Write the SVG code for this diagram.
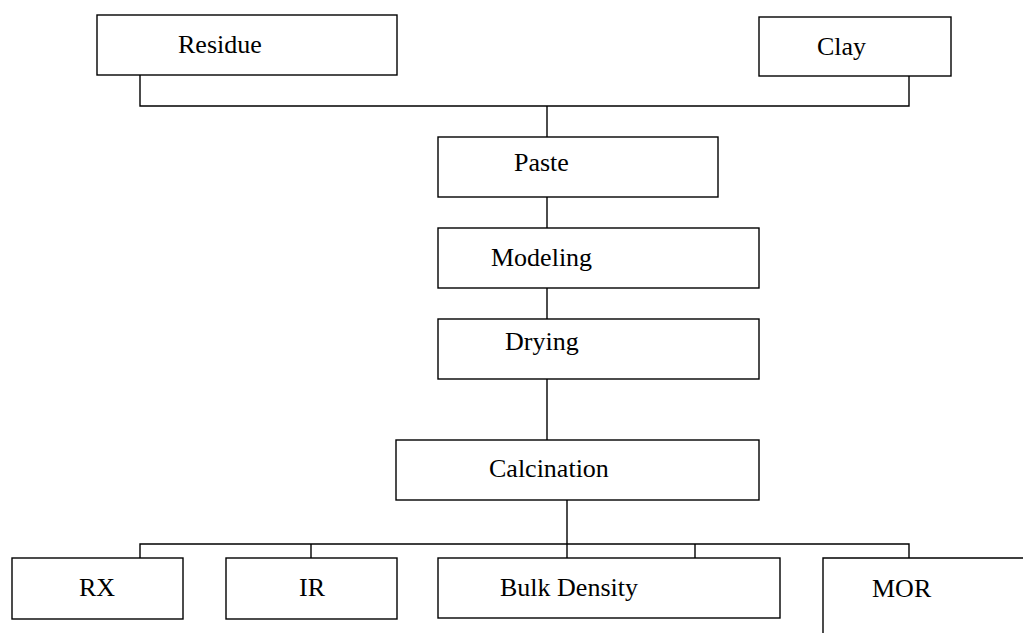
<svg xmlns="http://www.w3.org/2000/svg" width="1023" height="633" viewBox="0 0 1023 633">
<style>
.box{fill:#fff;stroke:#000;stroke-width:1.4}
.lbl{font-family:"Liberation Serif","Times New Roman",serif;font-size:26px;fill:#000}
.ln{fill:none;stroke:#000;stroke-width:1.4}
</style>
<rect width="1023" height="633" fill="#fff"/>
<g id="connectors">
<polyline class="ln" points="140,75 140,106 909,106 909,76"/>
<line class="ln" x1="547" y1="106" x2="547" y2="137"/>
<line class="ln" x1="547" y1="197" x2="547" y2="228"/>
<line class="ln" x1="547" y1="288" x2="547" y2="319"/>
<line class="ln" x1="547" y1="379" x2="547" y2="440"/>
<line class="ln" x1="567" y1="500" x2="567" y2="558"/>
<polyline class="ln" points="140,558 140,544 909,544 909,558"/>
<line class="ln" x1="311" y1="544" x2="311" y2="558"/>
<line class="ln" x1="695" y1="544" x2="695" y2="558"/>
</g>
<g id="residue"><rect class="box" x="97" y="15" width="300" height="60"/><text class="lbl" x="178" y="53">Residue</text></g>
<g id="clay"><rect class="box" x="759" y="17" width="192" height="59"/><text class="lbl" x="817" y="55">Clay</text></g>
<g id="paste"><rect class="box" x="438" y="137" width="280" height="60"/><text class="lbl" x="514" y="171">Paste</text></g>
<g id="modeling"><rect class="box" x="438" y="228" width="321" height="60"/><text class="lbl" x="491" y="266">Modeling</text></g>
<g id="drying"><rect class="box" x="438" y="319" width="321" height="60"/><text class="lbl" x="505" y="350">Drying</text></g>
<g id="calcination"><rect class="box" x="396" y="440" width="363" height="60"/><text class="lbl" x="489" y="477">Calcination</text></g>
<g id="rx"><rect class="box" x="12" y="558" width="171" height="61"/><text class="lbl" x="79" y="596">RX</text></g>
<g id="ir"><rect class="box" x="226" y="558" width="171" height="61"/><text class="lbl" x="299" y="596">IR</text></g>
<g id="bulk-density"><rect class="box" x="438" y="558" width="342" height="60"/><text class="lbl" x="500" y="596">Bulk Density</text></g>
<g id="mor"><polyline class="ln" points="823,633 823,558 1023,558"/><text class="lbl" x="872" y="597">MOR</text></g>
</svg>
